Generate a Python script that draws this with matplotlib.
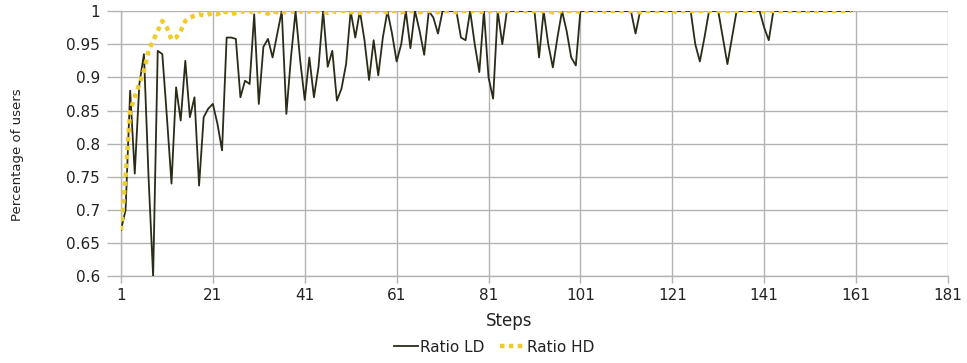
# === Ratio LD / Ratio HD per step ===

import matplotlib
matplotlib.use("Agg")
import matplotlib.pyplot as plt

# === DATA ===
steps = list(range(1, 161))

ratio_ld = [
    0.67, 0.70, 0.88, 0.755, 0.89, 0.935, 0.75, 0.60, 0.94, 0.935,
    0.84, 0.74, 0.885, 0.835, 0.925, 0.84, 0.87, 0.737, 0.84, 0.853,
    0.86, 0.83, 0.79, 0.96, 0.96, 0.958, 0.87, 0.895, 0.89, 0.995,
    0.86, 0.946, 0.958, 0.93, 0.965, 1.0, 0.845, 0.93, 1.0, 0.926,
    0.866, 0.93, 0.87, 0.916, 1.0, 0.916, 0.94, 0.865, 0.883, 0.92,
    1.0, 0.96, 1.0, 0.956, 0.896, 0.956, 0.903, 0.96, 1.0, 0.966,
    0.924, 0.95, 1.0, 0.944, 1.0, 0.97, 0.934, 1.0, 0.99, 0.966,
    1.0, 1.0, 1.0, 1.0, 0.96, 0.956, 1.0, 0.95, 0.908, 1.0,
    0.90, 0.868, 1.0, 0.95, 1.0, 1.0, 1.0, 1.0, 1.0, 1.0,
    1.0, 0.93, 1.0, 0.95, 0.915, 0.96, 1.0, 0.97, 0.93, 0.918,
    1.0, 1.0, 1.0, 1.0, 1.0, 1.0, 1.0, 1.0, 1.0, 1.0,
    1.0, 1.0, 0.966, 1.0, 1.0, 1.0, 1.0, 1.0, 1.0, 1.0,
    1.0, 1.0, 1.0, 1.0, 1.0, 0.95, 0.924, 0.96, 1.0, 1.0,
    1.0, 0.96, 0.92, 0.96, 1.0, 1.0, 1.0, 1.0, 1.0, 1.0,
    0.975, 0.956, 1.0, 1.0, 1.0, 1.0, 1.0, 1.0, 1.0, 1.0,
    1.0, 1.0, 1.0, 1.0, 1.0, 1.0, 1.0, 1.0, 1.0, 1.0,
]

ratio_hd = [
    0.67, 0.75, 0.85, 0.87, 0.89, 0.91, 0.94, 0.955, 0.97, 0.985,
    0.975, 0.957, 0.96, 0.97, 0.985, 0.99, 0.993, 0.995, 0.993, 0.995,
    0.997, 0.995, 1.0, 0.998, 0.995, 0.997, 1.0, 0.998, 1.0, 0.997,
    1.0, 0.998, 0.996, 1.0, 0.998, 1.0, 0.997, 1.0, 0.998, 1.0,
    0.997, 1.0, 0.998, 1.0, 1.0, 0.997, 1.0, 0.998, 1.0, 1.0,
    0.998, 1.0, 0.997, 1.0, 1.0, 0.998, 1.0, 1.0, 0.998, 1.0,
    1.0, 0.998, 1.0, 1.0, 1.0, 0.998, 1.0, 1.0, 1.0, 0.998,
    1.0, 1.0, 1.0, 0.998, 1.0, 1.0, 1.0, 1.0, 0.998, 1.0,
    1.0, 1.0, 1.0, 0.998, 1.0, 1.0, 1.0, 1.0, 1.0, 0.998,
    1.0, 1.0, 1.0, 1.0, 0.998, 1.0, 1.0, 1.0, 1.0, 1.0,
    0.998, 1.0, 1.0, 1.0, 1.0, 1.0, 0.998, 1.0, 1.0, 1.0,
    1.0, 1.0, 1.0, 0.998, 1.0, 1.0, 1.0, 1.0, 1.0, 1.0,
    1.0, 0.998, 1.0, 1.0, 1.0, 1.0, 1.0, 1.0, 1.0, 1.0,
    1.0, 1.0, 1.0, 1.0, 1.0, 1.0, 1.0, 1.0, 1.0, 1.0,
    1.0, 1.0, 1.0, 1.0, 1.0, 1.0, 1.0, 1.0, 1.0, 1.0,
    1.0, 1.0, 1.0, 1.0, 1.0, 1.0, 1.0, 1.0, 1.0, 1.0,
]

x_ticks = [1, 21, 41, 61, 81, 101, 121, 141, 161, 181]
y_ticks = [0.6, 0.65, 0.7, 0.75, 0.8, 0.85, 0.9, 0.95, 1.0]
y_tick_labels = ["0.6", "0.65", "0.7", "0.75", "0.8", "0.85", "0.9", "0.95", "1"]

# === STYLE ===
GRID = "#b3b3b3"
TXT = "#222222"
COL_LD = "#2b2b17"
COL_HD = "#f0cc2a"

plt.rcParams["font.family"] = ["DejaVu Sans"]

fig = plt.figure(figsize=(9.67, 3.63), dpi=100)
ax = fig.add_axes([0.1251, 0.2383, 0.8552, 0.7314])

ax.plot(steps, ratio_ld, color=COL_LD, lw=1.3, label="Ratio LD", zorder=3)
ax.plot(steps, ratio_hd, color=COL_HD, lw=3.2, linestyle=(0, (1, 1)),
        label="Ratio HD", zorder=4)

ax.set_xlim(1, 181)
ax.set_ylim(0.6, 1.0)
ax.set_xticks(x_ticks)
ax.set_yticks(y_ticks)
ax.set_yticklabels(y_tick_labels)

ax.grid(True, color=GRID, lw=1.0, zorder=0)
ax.set_axisbelow(True)
for side in ["top", "right"]:
    ax.spines[side].set_visible(False)
for side in ["left", "bottom"]:
    ax.spines[side].set_color(GRID)
    ax.spines[side].set_linewidth(1.0)

ax.tick_params(axis="x", length=5, width=1, color=GRID, pad=3,
               labelsize=11, labelcolor=TXT)
ax.tick_params(axis="y", length=10, width=1, color=GRID, pad=5,
               labelsize=11, labelcolor=TXT)

# etiquetas de ejes
fig.text(509 / 967, 1 - 321 / 363, "Steps", ha="center", va="center",
         fontsize=12, color=TXT)
fig.text(18 / 967, 1 - 155 / 363, "Percentage of users", ha="center",
         va="center", rotation=90, fontsize=9.5, color=TXT)

fig.legend(loc="center", bbox_to_anchor=(494 / 967, 1 - 347 / 363),
           ncol=2, frameon=False, fontsize=11, handlelength=1.6,
           handletextpad=0.15, columnspacing=1.0, labelcolor=TXT)

fig.savefig("out.png", dpi=100)
